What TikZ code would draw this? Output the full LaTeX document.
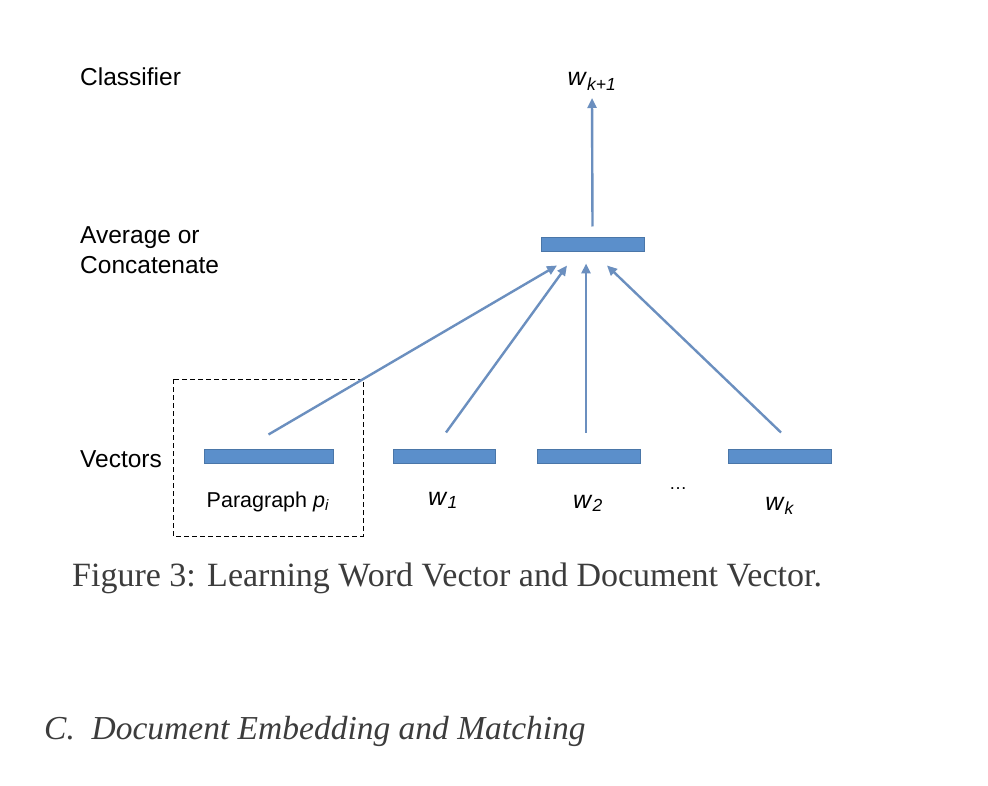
\documentclass[tikz,border=0pt]{standalone}
\usepackage{fontspec}
\setmainfont{Liberation Sans}
\newfontfamily\capfont{Liberation Serif}
\usetikzlibrary{positioning,arrows.meta}
\definecolor{barblue}{HTML}{5B8FCB}
\definecolor{baredge}{HTML}{4A76A8}
\definecolor{arrblue}{HTML}{6B8FBF}
\definecolor{captext}{HTML}{3C3C3C}
\tikzset{
  vecbar/.style={draw=baredge,fill=barblue,line width=1pt,minimum height=14pt,inner sep=0pt},
  arr/.style={draw=arrblue,line width=2.4pt,-{Triangle[length=10pt,width=9pt]}},
  lbl/.style={font=\fontsize{24.5}{29}\selectfont,inner sep=0pt,anchor=base west},
  wlbl/.style={font=\fontsize{25}{30}\selectfont,inner sep=0pt,anchor=base}
}
\begin{document}
\begin{tikzpicture}[x=1pt,y=-1pt]
\useasboundingbox[fill=white] (0,0) rectangle (988,786);
% row labels
\node[lbl] (cls) at (80,86) {Classifier};
\node[lbl] (avgA) at (80,244) {Average or};
\node[lbl] (avgB) at (80,274) {Concatenate};
\node[lbl] (vecs) at (80,467) {Vectors};
% vector bars
\node[vecbar,minimum width=129pt] (pbar) at (268.5,456) {};
\node[vecbar,minimum width=102pt] (wbar1) at (444,456) {};
\node[vecbar,minimum width=103pt] (wbar2) at (588.5,456) {};
\node[vecbar,minimum width=103pt] (wbark) at (779.5,456) {};
\node[vecbar,minimum width=103pt] (avg) at (592.5,245) {};
% word labels
\node[wlbl,font=\fontsize{21.5}{26}\selectfont] (plbl) at (268,507) {Paragraph \textit{p}\textsubscript{\textit{i}}};
\node[wlbl] (wl1) at (443,505) {\textit{w}\textsubscript{\textit{1}}};
\node[wlbl] (wl2) at (588,508) {\textit{w}\textsubscript{\textit{2}}};
\node[wlbl] (wlk) at (780,510) {\textit{w}\textsubscript{\textit{k}}};
\node[wlbl,font=\fontsize{18}{22}\selectfont] (dots) at (678,489) {\dots};
\node[wlbl] (out) at (592,86) {\textit{w}\textsubscript{\textit{k+1}}};
% paragraph frame
\draw[dash pattern=on 5pt off 3pt,line width=0.8pt] (173,379) rectangle (363,536);
% connections
\draw[arr] ([yshift=14pt]pbar.north) -- ([xshift=-35.5pt,yshift=-13pt]avg.south);
\draw[arr] ([xshift=2pt,yshift=16pt]wbar1.north) -- ([xshift=-25.5pt,yshift=-13pt]avg.south);
\draw[arr] ([xshift=-2.5pt,yshift=16pt]wbar2.north) -- ([xshift=-6.5pt,yshift=-11pt]avg.south);
\draw[arr] ([xshift=1.5pt,yshift=16pt]wbark.north) -- ([xshift=14.5pt,yshift=-13pt]avg.south);
\draw[arr] ([yshift=11pt]avg.north) -- ([yshift=-12pt]out.base);
% caption and heading
\node[anchor=base west,inner sep=0pt,text=captext,font=\capfont\fontsize{34}{40}\selectfont] (cap) at (72,586) {Figure 3: Learning Word Vector and Document Vector.};
\node[anchor=base west,inner sep=0pt,text=captext,font=\capfont\itshape\fontsize{33.5}{40}\selectfont] (sec) at (44,739) {C.\ \ Document Embedding and Matching};
\end{tikzpicture}
\end{document}
